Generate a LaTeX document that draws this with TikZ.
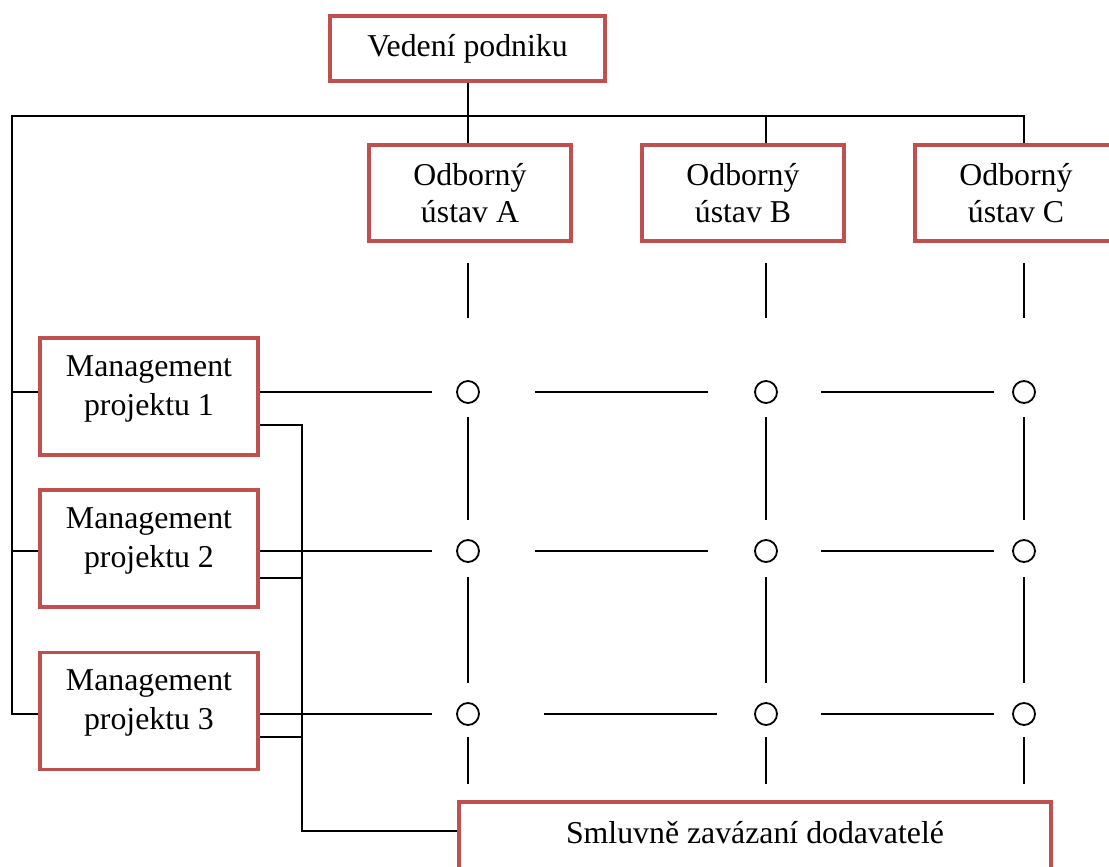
\documentclass[tikz,border=0pt]{standalone}
\usepackage{fontspec}
\setmainfont{Liberation Serif}
\definecolor{boxred}{HTML}{C0504D}
\begin{document}
\begin{tikzpicture}[x=0.5pt,y=-0.5pt,
  font=\fontsize{15.9}{18.5}\selectfont,
  box/.style={draw=boxred,line width=1.8pt,fill=white,align=center,inner sep=0pt},
  odb/.style={box,minimum width=101pt,minimum height=48pt},
  mgmt/.style={box,minimum width=109pt,minimum height=58.5pt},
  boxtext/.style={align=center,yshift=4pt,font=\fontsize{15.9}{19.5}\selectfont},
  dot/.style={circle,draw,line width=0.9pt,minimum size=11pt,inner sep=0pt},
  link/.style={line width=1pt}]
\useasboundingbox (0,0) rectangle (1109,867);
\clip (0,0) rectangle (1109,867);
\node[box,minimum width=137.5pt,minimum height=32.5pt] (vedeni) at (467.5,48.5) {Vedení podniku};
\node[odb] (odbA) at (470,193) {Odborný\\ústav A};
\node[odb] (odbB) at (743,193) {Odborný\\ústav B};
\node[odb] (odbC) at (1016,193) {Odborný\\ústav C};
\node[mgmt,label={[boxtext]center:Management\\projektu 1}] (mp1) at (149,396.5) {};
\node[mgmt,label={[boxtext]center:Management\\projektu 2}] (mp2) at (149,548.5) {};
\node[mgmt,label={[boxtext]center:Management\\projektu 3}] (mp3) at (149,711) {};
\node[box,minimum width=296pt,minimum height=40pt,
  label={[boxtext,yshift=0.5pt]center:Smluvně zavázaní dodavatelé}] (sup) at (755,842) {};
\foreach \r/\y in {1/392,2/551,3/714}
  \foreach \c/\x in {1/468,2/766,3/1024}
    \node[dot] (c\r\c) at (\x,\y) {};
\coordinate (corner) at (12,116);
\coordinate (sbus) at (302,831);

\draw[link] (vedeni.south) -- (vedeni.south |- odbA.north);
\draw[link] (mp3.west |- c31) -| (corner) -| (odbC.north -| c13);
\draw[link] (c12 |- corner) -- (odbB.north -| c12);
\draw[link] (mp1.west |- c11) -- (corner |- c11);
\draw[link] (mp2.west |- c21) -- (corner |- c21);

\draw[link] ([yshift=-14pt]mp1.east) -| (sbus) -- (sbus -| sup.west);
\draw[link] ([yshift=-14.5pt]mp2.east) -- ([yshift=-14.5pt]mp2.east -| sbus);
\draw[link] ([yshift=-13pt]mp3.east) -- ([yshift=-13pt]mp3.east -| sbus);

\draw[link,shorten >=18pt] (mp1.east |- c11) -- (c11.center);
\draw[link,shorten >=18pt] (mp2.east |- c21) -- (c21.center);
\draw[link,shorten >=18pt] (mp3.east |- c31) -- (c31.center);
\draw[link,shorten <=33.5pt,shorten >=29pt] (c11.center) -- (c12.center);
\draw[link,shorten <=33.5pt,shorten >=29pt] (c21.center) -- (c22.center);
\draw[link,shorten <=38pt,shorten >=24.5pt] (c31.center) -- (c32.center);
\foreach \r in {1,2,3}
  \draw[link,shorten <=27.5pt,shorten >=15pt] (c\r2.center) -- (c\r3.center);

\foreach \c in {1,2,3}{
  \draw[link,shorten <=10pt,shorten >=37pt] (odbA.south -| c1\c) -- (c1\c.center);
  \draw[link,shorten <=12.5pt,shorten >=15.5pt] (c1\c.center) -- (c2\c.center);
  \draw[link,shorten <=13pt,shorten >=15.5pt] (c2\c.center) -- (c3\c.center);
  \draw[link,shorten <=11.5pt,shorten >=8pt] (c3\c.center) -- (c3\c |- sup.north);
}
\end{tikzpicture}
\end{document}
